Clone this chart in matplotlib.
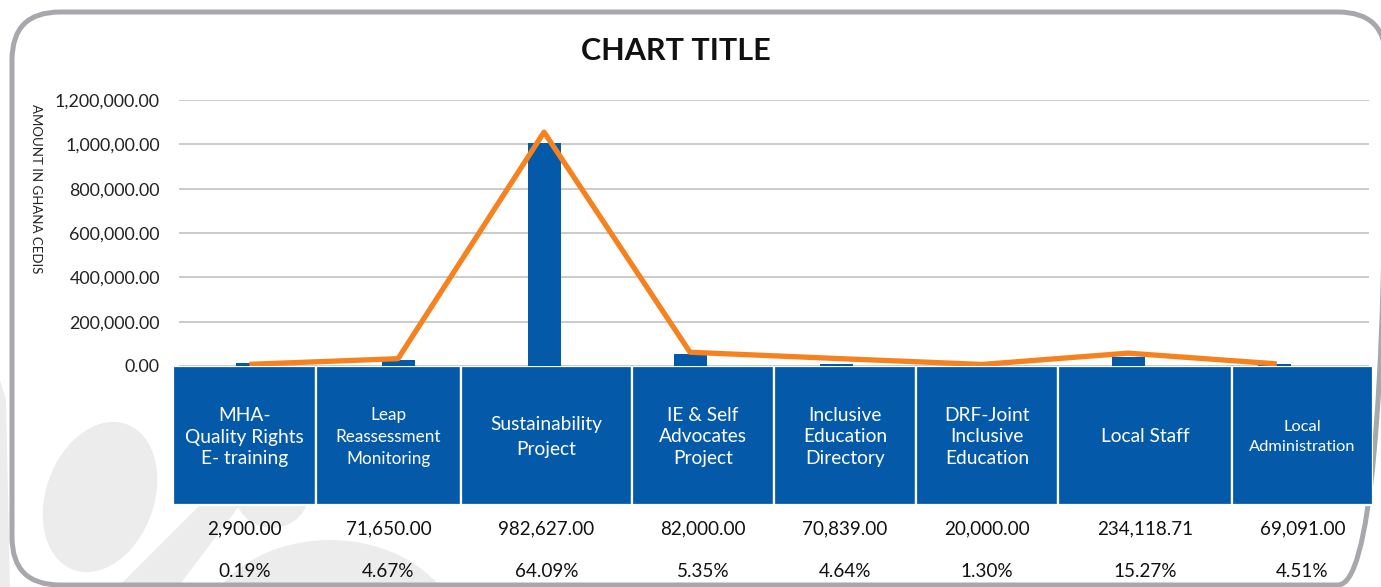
import matplotlib.pyplot as plt
from matplotlib.patches import FancyBboxPatch, Rectangle, Ellipse, Circle, Polygon

# ---- data ----
categories = [
    "MHA-\nQuality Rights\nE- training",
    "Leap\nReassessment\nMonitoring",
    "Sustainability\nProject",
    "IE & Self\nAdvocates\nProject",
    "Inclusive\nEducation\nDirectory",
    "DRF-Joint\nInclusive\nEducation",
    "Local Staff",
    "Local\nAdministration",
]
bar_values = [15000, 27000, 1005000, 55000, 9000, 2000, 42000, 9000]
line_values = [8000, 33000, 1055000, 62000, 34000, 7000, 58000, 10500]
amounts = [2900.00, 71650.00, 982627.00, 82000.00, 70839.00, 20000.00, 234118.71, 69091.00]
shares = [0.19, 4.67, 64.09, 5.35, 4.64, 1.30, 15.27, 4.51]
y_ticks = [0, 200000, 400000, 600000, 800000, 1000000, 1200000]
y_tick_labels = ["0.00", "200,000.00", "400,000.00", "600,000.00",
                 "800,000.00", "1,000,00.00", "1,200,000.00"]

# ---- layout / style ----
col_widths = [143, 145, 171, 142, 142, 142, 174, 141]
label_sizes = [13.8, 12.3, 13.8, 13.8, 13.8, 13.8, 13.8, 11.8]
label_spacing = [1.3, 1.47, 1.6, 1.3, 1.3, 1.3, 1.2, 1.55]
BLUE = "#0559A9"
ORANGE = "#F5821F"
W, H = 1381, 587

plt.rcParams['font.family'] = ['Lato', 'DejaVu Sans']
fig = plt.figure(figsize=(W / 100, H / 100), dpi=100)

# background: watermark shapes and rounded frame (pixel coordinates)
bg = fig.add_axes([0, 0, 1, 1], zorder=0)
bg.set_xlim(0, W)
bg.set_ylim(H, 0)
bg.axis('off')
wm = "#ececec"
bg.add_patch(Ellipse((100, 497), 108, 155, angle=20, color=wm, lw=0))
bg.add_patch(Circle((272, 490), 38, color=wm, lw=0))
bg.add_patch(Polygon([(118, 587), (178, 587), (240, 505), (200, 505)], color=wm, lw=0))
bg.add_patch(Ellipse((330, 640), 260, 200, color=wm, lw=0))
bg.add_patch(Polygon([(0, 380), (6, 400), (10, 587), (0, 587)], color=wm, lw=0))
bg.add_patch(FancyBboxPatch((12, 12), 1374, 573, boxstyle="round,pad=0,rounding_size=48",
                            fill=False, ec="#a7a8ab", lw=3.6))

fig.text(676 / W, 1 - 51 / H, "CHART TITLE", ha='center', va='center',
         fontsize=22, fontweight='bold', color='#111111')
fig.text(36 / W, 1 - 189 / H, "AMOUNT IN GHANA CEDIS", rotation=270,
         ha='center', va='center', fontsize=9.5, color='#222222')

# main chart
ax = fig.add_axes([179 / W, 1 - 366 / H, 1190 / W, 266 / H], zorder=2)
ax.set_facecolor('none')
x = list(range(len(categories)))
ax.bar(x, bar_values, width=0.226, color=BLUE, zorder=2)
ax.plot(x, line_values, color=ORANGE, lw=3.8, zorder=3)
ax.set_xlim(-0.5, 7.65)
ax.set_ylim(0, 1200000)
ax.set_yticks(y_ticks, y_tick_labels)
ax.set_xticks([])
ax.tick_params(axis='y', length=0, pad=13.7, labelsize=12.9, labelcolor='#222222')
ax.yaxis.grid(True, color='#c6c8c8', lw=1.3)
ax.set_axisbelow(True)
for s in ax.spines.values():
    s.set_visible(False)

# table of category boxes and values
tab = fig.add_axes([173 / W, 0, 1200 / W, (H - 366) / H], zorder=3)
tab.set_xlim(0, 1200)
tab.set_ylim(H - 366, 0)
tab.axis('off')
left = 0
for i, w in enumerate(col_widths):
    tab.add_patch(Rectangle((left, 0), w, 139, facecolor=BLUE, edgecolor='white', lw=1.6))
    cx = left + w / 2
    tab.text(cx, 71, categories[i], ha='center', va='center', color='white',
             fontsize=label_sizes[i], linespacing=label_spacing[i])
    tab.text(cx, 163, f"{amounts[i]:,.2f}", ha='center', va='center',
             fontsize=13.6, color='#111111')
    tab.text(cx, 205.5, f"{shares[i]:.2f}%", ha='center', va='center',
             fontsize=13.6, color='#111111')
    left += w

fig.savefig('out.png', dpi=100)
